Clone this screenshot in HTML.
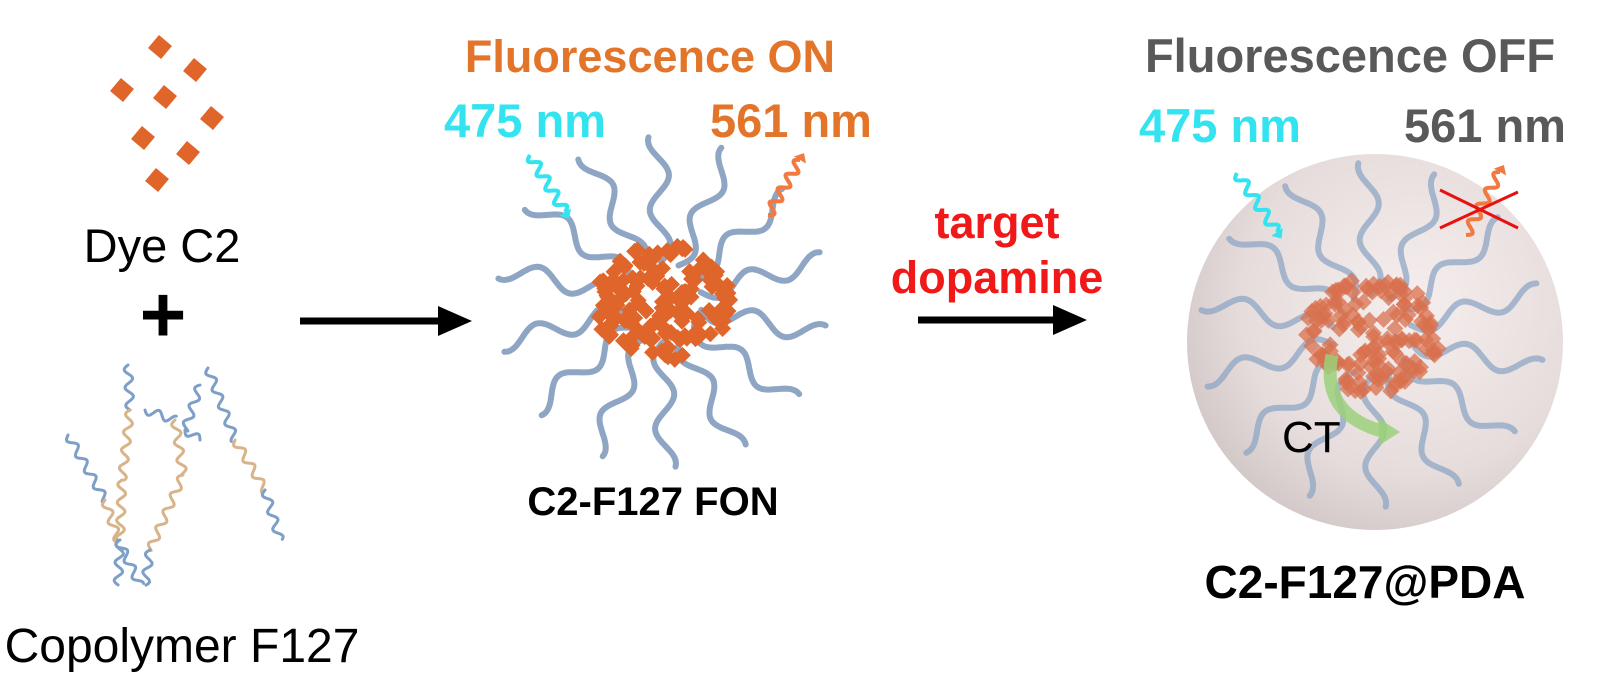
<!DOCTYPE html>
<html><head><meta charset="utf-8"><style>
html,body{margin:0;padding:0;background:#fff}
svg{display:block}
text{font-family:"Liberation Sans",Arial,sans-serif}
</style></head><body>
<svg id="s" width="1600" height="686" viewBox="0 0 1600 686" xmlns="http://www.w3.org/2000/svg">
<defs>
<radialGradient id="sph" cx="0.6" cy="0.4" r="0.65">
<stop offset="0" stop-color="#f6eeee"/><stop offset="0.7" stop-color="#e6dcdc"/><stop offset="1" stop-color="#d2c8c8"/>
</radialGradient>
</defs>
<circle cx="1375" cy="342" r="188" fill="url(#sph)"/>
<g id="g1"></g><g id="g2"></g><g id="g0"></g>

<text x="650" y="72" font-size="45" font-weight="bold" fill="#e2752a" text-anchor="middle">Fluorescence ON</text>
<text x="525" y="137" font-size="47" font-weight="bold" fill="#33e3ef" text-anchor="middle">475 nm</text>
<text x="791" y="137" font-size="47" font-weight="bold" fill="#e2752a" text-anchor="middle">561 nm</text>
<text x="1350" y="72" font-size="47" font-weight="bold" fill="#595959" text-anchor="middle">Fluorescence OFF</text>
<text x="1220" y="142" font-size="47" font-weight="bold" fill="#33e3ef" text-anchor="middle">475 nm</text>
<text x="1485" y="142" font-size="47" font-weight="bold" fill="#595959" text-anchor="middle">561 nm</text>
<text x="162" y="262" font-size="47" fill="#000" text-anchor="middle">Dye C2</text>
<text x="163" y="342" font-size="80" font-weight="bold" fill="#000" text-anchor="middle">+</text>
<text x="182" y="662" font-size="48" fill="#000" text-anchor="middle">Copolymer F127</text>
<text x="653" y="515" font-size="40" font-weight="bold" fill="#000" text-anchor="middle">C2-F127 FON</text>
<text x="1365" y="598" font-size="46" font-weight="bold" fill="#000" text-anchor="middle">C2-F127@PDA</text>
<text x="997" y="238" font-size="45" font-weight="bold" fill="#f01818" text-anchor="middle">target</text>
<text x="997" y="293" font-size="45" font-weight="bold" fill="#f01818" text-anchor="middle">dopamine</text>
<line x1="300" y1="321" x2="440" y2="321" stroke="#000" stroke-width="7"/>
<path d="M438,306 L472,321 L438,336z" fill="#000"/>
<line x1="918" y1="320" x2="1055" y2="320" stroke="#000" stroke-width="7"/>
<path d="M1053,305 L1087,320 L1053,335z" fill="#000"/>
<path d="M1332,355 Q1320,415 1385,432" fill="none" stroke="#9bd07a" stroke-width="13" opacity="0.85"/>
<path d="M1378,418 L1400,432 L1380,445z" fill="#9bd07a" opacity="0.85"/>
<text x="1282" y="452" font-size="44" fill="#000">CT</text>
<line x1="1440" y1="190" x2="1518" y2="228" stroke="#e81010" stroke-width="3"/>
<line x1="1440" y1="228" x2="1518" y2="192" stroke="#e81010" stroke-width="3"/>
</svg>
<script>
var NS="http://www.w3.org/2000/svg";
var seed=7;function rnd(){seed=(seed*16807)%2147483647;return (seed-1)/2147483646;}
function el(p,t,a){var e=document.createElementNS(NS,t);for(var k in a)e.setAttribute(k,a[k]);p.appendChild(e);return e;}
function wave(x1,y1,x2,y2,amp,n,steps){
  var dx=x2-x1,dy=y2-y1,L=Math.hypot(dx,dy),nx=-dy/L,ny=dx/L,d="";
  for(var i=0;i<=steps;i++){var t=i/steps,w=Math.sin(t*Math.PI*2*n)*amp;
   d+=(i?"L":"M")+(x1+dx*t+nx*w).toFixed(1)+","+(y1+dy*t+ny*w).toFixed(1);}
  return d;}
function diamond(g,x,y,s,rot,col,op){
  el(g,"rect",{x:x-s/2,y:y-s/2,width:s,height:s,fill:col,opacity:op||1,transform:"rotate("+rot+" "+x+" "+y+")"});}
function micelle(g,cx,cy,R,op,sq,col){
  var n=14;
  for(var i=0;i<n;i++){var a=i/n*Math.PI*2+0.2;
    var x1=cx+Math.cos(a)*40,y1=cy+Math.sin(a)*40,x2=cx+Math.cos(a)*R,y2=cy+Math.sin(a)*R;
    el(g,"path",{d:wave(x1,y1,x2,y2,10,1.8,60),fill:"none",stroke:"#8ea5c4",opacity:op,"stroke-width":6,"stroke-linecap":"round"});}
  for(var j=0;j<sq;j++){var r=Math.sqrt(rnd())*65,a2=rnd()*Math.PI*2;
    diamond(g,cx+Math.cos(a2)*r*1.05,cy+Math.sin(a2)*r*0.9,12,45,col,op);}
}
var g1=document.getElementById("g1"),g2=document.getElementById("g2"),g0=document.getElementById("g0");
micelle(g1,662,302,165,1,150,"#e0652a");
micelle(g2,1372,335,172,0.75,150,"#d8704e");
function lightArrow(g,x1,y1,x2,y2,col){
  el(g,"path",{d:wave(x1,y1,x2,y2,5,4,80),fill:"none",stroke:col,"stroke-width":4});
  var dx=x2-x1,dy=y2-y1,L=Math.hypot(dx,dy),ux=dx/L,uy=dy/L;
  el(g,"path",{d:"M"+(x2+ux*8)+","+(y2+uy*8)+"L"+(x2-uy*7)+","+(y2+ux*7)+"L"+(x2+uy*7)+","+(y2-ux*7)+"z",fill:col});}
lightArrow(g0,530,155,565,212,"#33e3ef");
lightArrow(g0,768,215,800,160,"#f07a40");
lightArrow(g0,1237,173,1277,232,"#33e3ef");
lightArrow(g0,1466,235,1500,172,"#f07a40");
[[160,47],[195,70],[122,90],[165,97],[212,118],[143,138],[188,153],[157,180]].forEach(function(p){diamond(g0,p[0],p[1],17,40,"#e0652a");});
function chain(pts,cols){for(var i=0;i<pts.length-1;i++){var a=pts[i],b=pts[i+1];
  el(g0,"path",{d:wave(a[0],a[1],b[0],b[1],4,Math.max(1,Math.hypot(b[0]-a[0],b[1]-a[1])/18),60),fill:"none",stroke:cols[i],"stroke-width":3,"stroke-linecap":"round"});}}
var B="#7d9fc8",T="#d8b48a";
chain([[128,365],[130,410],[122,480],[120,540],[118,585]],[B,T,T,B]);
chain([[68,435],[105,500],[118,540],[140,585]],[B,T,B]);
chain([[145,410],[175,420],[183,475],[150,550],[145,585]],[B,T,T,B]);
chain([[200,385],[185,430],[200,440]],[B,B]);
chain([[208,368],[235,440],[265,490],[280,540]],[B,T,B]);
</script>
</body></html>
